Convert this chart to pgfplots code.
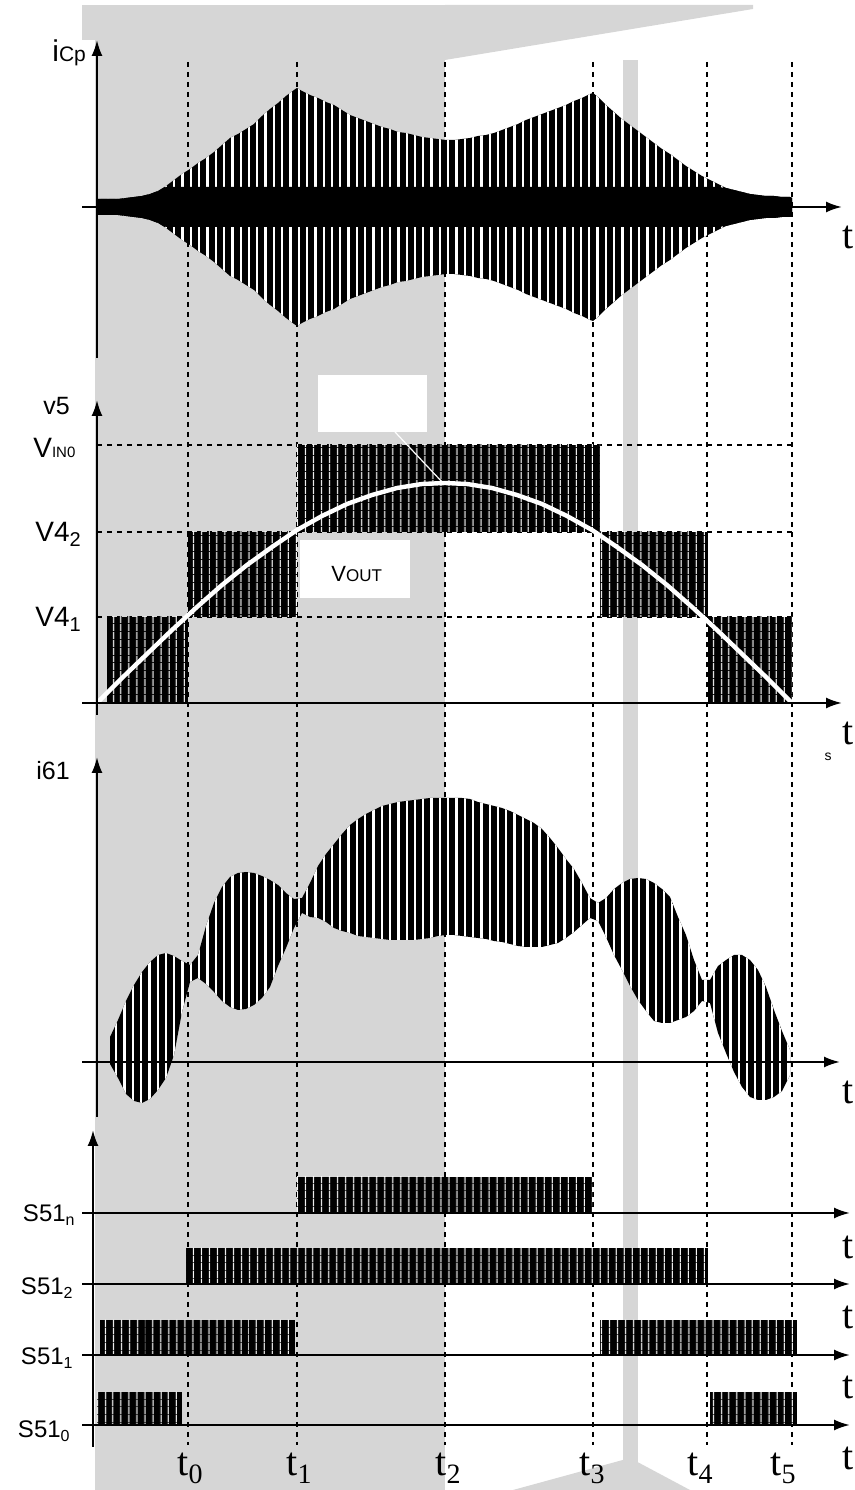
\documentclass[border=0pt]{standalone}
\usepackage{pgfplots}
\pgfplotsset{compat=1.18}
\usepackage{pgfplotstable}
\usepgfplotslibrary{fillbetween}
\usetikzlibrary{arrows.meta,patterns.meta}
\usepackage{fontspec}
\setmainfont{Liberation Sans}
\newfontfamily\serif{Liberation Serif}

% i_Cp envelope amplitude (pixels above/below the axis)
\pgfplotstableread{
x a
97 8
102 8
110 8
118 8
126 9
134 10
142 11
150 13
158 16
166 21
174 27
182 33
190 38
198 44
206 49
214 55
222 62
230 69
238 73
246 78
254 83
262 91
270 98
278 104
286 111
294 117
297 119
302 116
310 112
318 109
326 105
334 102
342 97
350 92
358 89
366 86
374 83
382 80
390 78
398 75
406 74
414 72
422 70
430 69
438 68
446 67
454 67
462 68
470 69
478 71
486 72
494 74
502 77
510 80
518 83
526 87
534 90
542 93
550 96
558 99
566 102
574 106
582 109
590 113
593 114
598 110
606 102
614 95
622 88
630 82
638 76
646 70
654 64
662 58
670 53
678 47
686 41
694 36
702 31
710 27
718 23
726 19
734 17
742 15
750 13
758 12
766 11
774 11
782 10
790 10
792 9
}\icp

% i61 band: upper and lower edge
\pgfplotstableread{
x hi lo
110 25 -2
118 42 -16
126 61 -32
134 77 -39
142 90 -41
150 100 -37
158 107 -28
166 109 -16
174 106 7
182 101 50
190 97 80
198 107 84
206 136 78
214 159 70
222 175 61
230 185 55
238 189 52
246 190 53
254 189 57
262 186 64
270 182 75
278 177 96
286 169 114
294 163 134
302 164 149
310 179 145
318 196 144
326 208 140
334 218 134
342 228 131
350 237 129
358 243 126
366 248 125
374 252 124
382 256 123
390 258 122
398 260 122
406 261 122
414 262 122
422 263 123
430 264 124
438 264 126
446 264 127
454 264 127
462 264 126
470 263 125
478 260 124
486 258 123
494 256 121
502 254 120
510 251 118
518 247 116
526 243 115
534 239 115
542 233 115
550 224 117
558 214 119
566 203 124
574 193 130
582 179 137
590 164 144
598 159 141
606 164 125
614 173 107
622 179 92
630 183 76
638 184 62
646 183 51
654 179 41
662 173 39
670 165 39
678 145 42
686 127 45
694 102 51
702 82 61
710 82 59
718 96 29
726 102 9
734 107 -10
742 107 -25
750 102 -35
758 92 -38
766 75 -38
774 52 -35
782 31 -29
790 12 -13
}\isix

\tikzset{
  px/.style={x=0.5pt,y=-0.5pt,yshift=745pt},
  ax/.style={line width=1.1pt,-{Latex[length=8pt,width=5.5pt]}},
  tl/.style={line width=0.6pt,dash pattern=on 2.5pt off 2.5pt},
  slits/.style={pattern={Lines[angle=90,distance=4.15pt,line width=1.15pt]},pattern color=white},
  thinslits/.style={pattern={Lines[angle=90,distance=4pt,line width=0.5pt]},pattern color=white},
}
\pgfplotsset{
  panel/.style={hide axis,clip=false,x=0.5pt,y=0.5pt,xmin=0,xmax=855,
    anchor=south west,enlargelimits=false,fill between/on layer=main},
  blk/.style={draw=none,fill=black,postaction={thinslits}},
}

\begin{document}
\begin{tikzpicture}
\begin{scope}[px]
\useasboundingbox (0,0) rectangle (855,1490);
\fill[black!16] (82,5) rectangle (445,40);
\fill[black!16] (95,40) rectangle (445,1490);
\fill[black!16] (445,5) -- (753,5) -- (753,9) -- (445,60) -- cycle;
\fill[black!16] (623,60) rectangle (638,1490);
\fill[black!16] (513,1490) -- (630,1458) -- (690,1490) -- cycle;
\fill[white] (318,375) rectangle (427,432);
\fill[white] (300,540) rectangle (410,598);
\foreach \t in {188,297,445,593,707,792} \draw[tl] (\t,62) -- (\t,1445);
\foreach \v in {445,532,617} \draw[tl] (97,\v) -- (795,\v);
\end{scope}

% ---- panel 1: i_Cp
\begin{axis}[panel,ymin=-163,ymax=197,at={(0pt,560pt)}]
\addplot[draw=none,name path=cpU] table[x=x,y=a]{\icp};
\addplot[draw=none,name path=cpL] table[x=x,y expr=-\thisrow{a}]{\icp};
\addplot[fill=black,draw=none] fill between[of=cpU and cpL];
\addplot[slits,draw=none] fill between[of=cpU and cpL];
\addplot[draw=none,name path=ccU] table[x=x,y expr={min(\thisrow{a},20)}]{\icp};
\addplot[draw=none,name path=ccL] table[x=x,y expr={-min(\thisrow{a},20)}]{\icp};
\addplot[fill=black,draw=none] fill between[of=ccU and ccL];
\end{axis}

% ---- panel 2: v5
\begin{axis}[panel,ymin=-27,ymax=333,at={(0pt,380pt)}]
\addplot[blk] coordinates {(107,0)(107,86)(188,86)(188,0)} -- cycle;
\addplot[blk] coordinates {(188,86)(188,171)(297,171)(297,86)} -- cycle;
\addplot[blk] coordinates {(297,171)(297,258)(600,258)(600,171)} -- cycle;
\addplot[blk] coordinates {(600,86)(600,171)(708,171)(708,86)} -- cycle;
\addplot[blk] coordinates {(708,0)(708,86)(792,86)(792,0)} -- cycle;
\addplot[white,line width=2.2pt] coordinates {(97,0)(122,25)(147,49)(172,73)(197,96)(222,118)(247,138)(272,156)(297,173)(322,187)(347,199)(372,208)(397,215)(422,219)(445,220)(467,219)(492,215)(517,208)(542,199)(567,187)(592,173)(617,156)(642,138)(667,118)(692,96)(717,73)(742,49)(767,25)(792,0)};
\draw[white,line width=0.6pt] (axis cs:395,271) -- (axis cs:443,220);
\end{axis}

% ---- panel 3: i61
\begin{axis}[panel,ymin=-53,ymax=332,at={(0pt,187.5pt)}]
\addplot[draw=none,name path=sxU] table[x=x,y=hi]{\isix};
\addplot[draw=none,name path=sxL] table[x=x,y=lo]{\isix};
\addplot[fill=black,draw=none] fill between[of=sxU and sxL];
\addplot[slits,draw=none] fill between[of=sxU and sxL];
\end{axis}

% ---- panel 4: S51 switching signals
\begin{axis}[panel,ymin=-65,ymax=310,at={(0pt,0pt)}]
\addplot[blk] coordinates {(297,212)(297,248)(592,248)(592,212)} -- cycle;
\addplot[blk] coordinates {(186,141)(186,177)(708,177)(708,141)} -- cycle;
\addplot[blk] coordinates {(100,70)(100,105)(295,105)(295,70)} -- cycle;
\addplot[blk] coordinates {(600,70)(600,105)(797,105)(797,70)} -- cycle;
\addplot[blk] coordinates {(97,0)(97,33)(182,33)(182,0)} -- cycle;
\addplot[blk] coordinates {(710,0)(710,33)(797,33)(797,0)} -- cycle;
\end{axis}

\begin{scope}[px]
% axes
\draw[ax] (82,207) -- (842,207);
\draw[ax] (97,358) -- (97,40);
\draw[ax] (82,703) -- (842,703);
\draw[ax] (97,715) -- (97,400);
\draw[ax] (82,1062) -- (840,1062);
\draw[ax] (97,1117) -- (97,757);
\foreach \r in {1213,1284,1355,1425} \draw[ax] (82,\r) -- (850,\r);
\draw[ax] (93,1447) -- (93,1130);
% labels
\node[anchor=base west,inner sep=0] at (52,62) {\fontsize{15}{15}\selectfont i\fontsize{10.5}{10.5}\selectfont Cp};
\node[anchor=base west,inner sep=0] at (43,415) {\fontsize{12.5}{12.5}\selectfont v5};
\node[anchor=base west,inner sep=0] at (33,458) {\fontsize{14}{14}\selectfont V\fontsize{7.5}{7.5}\selectfont IN0};
\node[anchor=base west,inner sep=0] at (35,542) {\fontsize{14}{14}\selectfont V4\raisebox{-2.5pt}{\fontsize{10}{10}\selectfont 2}};
\node[anchor=base west,inner sep=0] at (35,627) {\fontsize{14}{14}\selectfont V4\raisebox{-2.5pt}{\fontsize{10}{10}\selectfont 1}};
\node[anchor=base west,inner sep=0] at (331,582) {\fontsize{11}{11}\selectfont V\fontsize{8.5}{8.5}\selectfont OUT};
\node[anchor=base west,inner sep=0] at (36,780) {\fontsize{12.5}{12.5}\selectfont i61};
\node[anchor=base east,inner sep=0] at (75,1222) {\fontsize{12}{12}\selectfont S51\raisebox{-2pt}{\fontsize{8}{8}\selectfont n}};
\node[anchor=base east,inner sep=0] at (73,1295) {\fontsize{12}{12}\selectfont S51\raisebox{-2pt}{\fontsize{8}{8}\selectfont 2}};
\node[anchor=base east,inner sep=0] at (73,1365) {\fontsize{12}{12}\selectfont S51\raisebox{-2pt}{\fontsize{8}{8}\selectfont 1}};
\node[anchor=base east,inner sep=0] at (70,1438) {\fontsize{12}{12}\selectfont S51\raisebox{-2pt}{\fontsize{8}{8}\selectfont 0}};
\foreach \y in {237,733,1092,1247,1317,1387,1458}
  \node[anchor=west,inner sep=0,font=\serif\fontsize{20}{20}\selectfont] at (842,\y) {t};
\foreach \x/\k in {190/0,299/1,448/2,592/3,700/4,783/5}
  \node[anchor=base,inner sep=0] at (\x,1476) {\serif\fontsize{20}{20}\selectfont t\raisebox{-4pt}{\fontsize{14}{14}\selectfont \k}};
\node[inner sep=0,font=\fontsize{7}{7}\selectfont] at (828,757) {s};
\end{scope}
\end{tikzpicture}
\end{document}
